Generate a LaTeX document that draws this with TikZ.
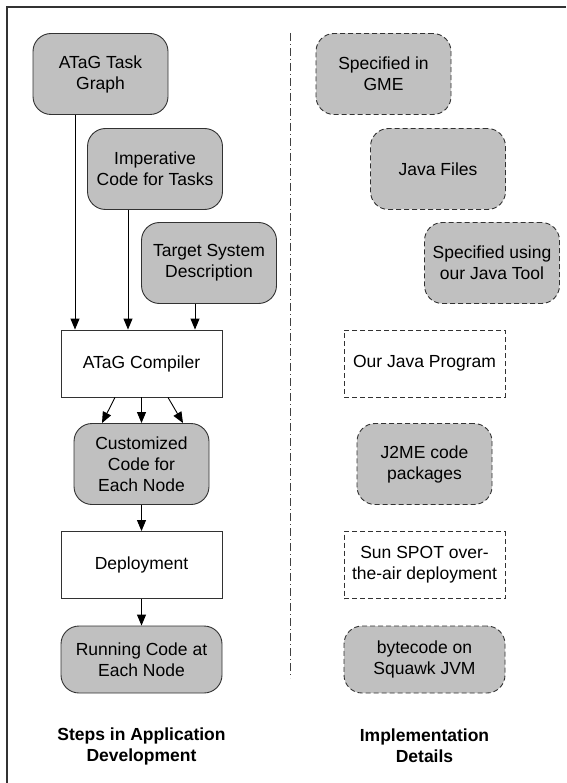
\documentclass[tikz,border=0pt]{standalone}
\usepackage{fontspec}
\setmainfont{Liberation Sans}
\usetikzlibrary{arrows.meta,positioning}
\definecolor{boxgray}{RGB}{192,192,192}
\definecolor{linegray}{RGB}{50,50,50}

\begin{document}
\begin{tikzpicture}[x=1pt,y=-1pt,->,>={Triangle[length=11pt,width=9pt]},line width=0.9pt,node distance=283pt,
  every node/.style={font=\fontsize{17.5}{21}\selectfont,align=center,inner sep=0pt},
  stage/.style={draw=linegray,fill=boxgray,rounded corners=18pt,minimum width=135pt,minimum height=81pt},
  widestage/.style={stage,minimum width=161pt,minimum height=67pt},
  tool/.style={draw=linegray,fill=white,minimum width=161pt,minimum height=67pt},
  impl/.style={dash pattern=on 5pt off 3pt},
  heading/.style={font=\bfseries\fontsize{17.5}{21}\selectfont}]
  \useasboundingbox (0,0) rectangle (566,783);
  \draw[-,line width=1.5pt,linegray] (566,7) -- (7,7) -- (7,783);
  \draw[-,darkgray,dash pattern=on 8pt off 3pt on 1pt off 3pt] (290,33) -- (290,678);

  % steps
  \node[stage]        (graph) at (100.5,74)  {ATaG Task\\Graph};
  \node[stage]        (code) at (155,169)    {Imperative\\Code for Tasks};
  \node[stage]        (target) at (209,263)  {Target System\\Description};
  \node[tool]         (compiler) at (141.5,363.5) {ATaG Compiler};
  \node[stage]        (custom) at (141.5,464) {Customized\\Code for\\Each Node};
  \node[tool]         (deploy) at (141.5,565) {Deployment};
  \node[widestage]    (running) at (141.5,659.5) {Running Code at\\Each Node};
  \node[heading]      (steps) at (141.5,746) {Steps in Application\\Development};

  % implementation
  \node[stage,impl]     (gme) [right of=graph]    {Specified in\\GME};
  \node[stage,impl]     (java) [right of=code]    {Java Files};
  \node[stage,impl]     (gui) [right of=target]   {Specified using\\our Java Tool};
  \node[tool,impl]      (program) [right of=compiler] {Our Java Program};
  \node[stage,impl]     (j2me) [right of=custom]  {J2ME code\\packages};
  \node[tool,impl]      (spot) [right of=deploy]  {Sun SPOT over-\\the-air deployment};
  \node[widestage,impl] (squawk) [right of=running] {bytecode on\\Squawk JVM};
  \node[heading]        (details) [right of=steps] {Implementation\\Details};

  \coordinate (in1) at ([xshift=-25.5pt]graph.south);
  \coordinate (in2) at ([xshift=-27pt]code.south);
  \coordinate (in3) at ([xshift=-14pt]target.south);
  \draw (in1) -- (in1 |- compiler.north);
  \draw (in2) -- (in2 |- compiler.north);
  \draw (in3) -- (in3 |- compiler.north);

  \draw ([xshift=-26.5pt]compiler.south) -- ([xshift=-39.5pt]custom.north);
  \draw ([xshift=26.5pt]compiler.south) -- ([xshift=41.5pt]custom.north);
  \path (compiler) edge (custom)
        (custom) edge (deploy)
        (deploy) edge (running);
\end{tikzpicture}
\end{document}
